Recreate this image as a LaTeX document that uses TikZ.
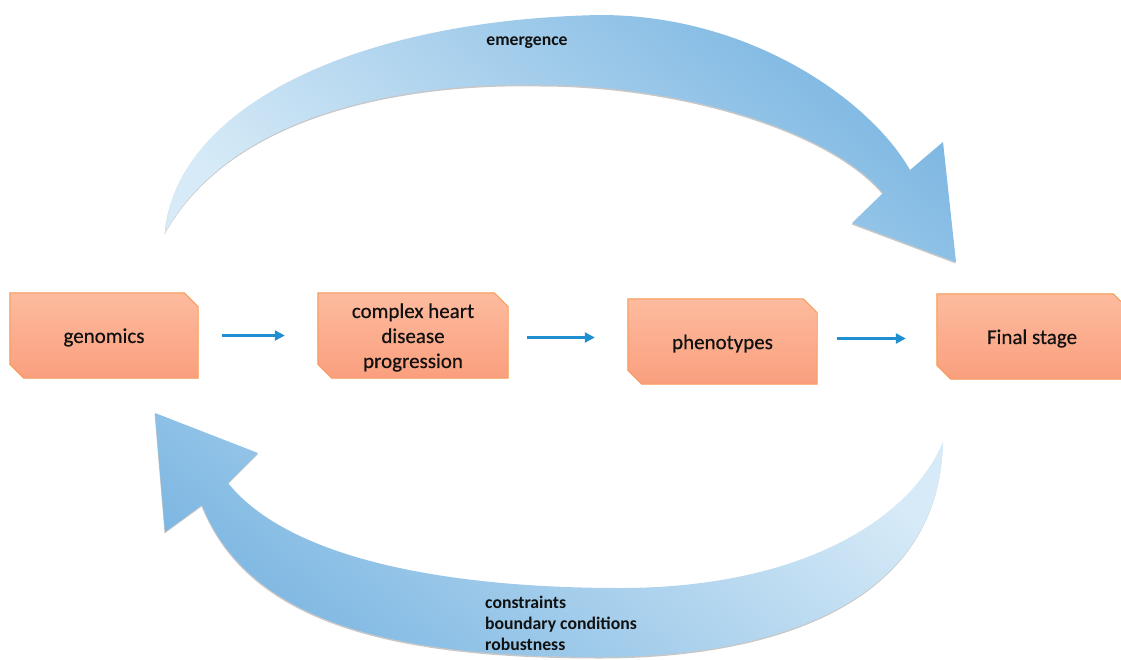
\documentclass[tikz,border=0pt]{standalone}
\usepackage{fontspec}
\setmainfont{Carlito}
\newfontfamily\boxfont{Carlito}[FakeBold=0.5]
\usetikzlibrary{arrows.meta,backgrounds}
\definecolor{boxtop}{HTML}{FDBB9E}
\definecolor{boxbot}{HTML}{FA9F7E}
\definecolor{boxline}{HTML}{F7964F}
\definecolor{flowblue}{HTML}{1F8FCF}
\definecolor{arrdark}{HTML}{7DB7E2}
\definecolor{arrlight}{HTML}{D6EAF7}
\definecolor{txt}{HTML}{111111}
% box outline; the text sits 2pt below the box centre
\newcommand\drawchamf[1]{%
  \draw[boxshape] ([yshift=2pt]#1.north west) -- ([xshift=-14pt,yshift=2pt]#1.north east) -- ([yshift=-12pt]#1.north east)
    -- ([yshift=2pt]#1.south east) -- ([xshift=14pt,yshift=2pt]#1.south west) -- ([yshift=16pt]#1.south west) -- cycle;}
\begin{document}
\begin{tikzpicture}[x=1pt,y=-1pt,
  box/.style={minimum width=#1, minimum height=85pt, inner sep=0pt, align=center,
    font=\boxfont\fontsize{21}{25}\selectfont, text=txt},
  box/.default=188pt,
  boxshape/.style={draw=boxline, line width=0.9pt, top color=boxtop, bottom color=boxbot},
  flow/.style={draw=flowblue, line width=2.4pt, -{Triangle[length=10pt,width=10pt]}},
  lbl/.style={font=\bfseries\fontsize{17.7}{21}\selectfont, text=txt, inner sep=0pt},
  bigarrow/.style={preaction={fill=black, opacity=0.22, transform canvas={xshift=-0.4pt, yshift=-1.5pt}}}
]
\useasboundingbox (0,0) rectangle (1121,660);
\clip (0,0) rectangle (1121,660);

% top arrow
\path[bigarrow, top color=arrdark, bottom color=arrlight, shading angle=-40]
  (165,233) .. controls (175,110) and (350,20) .. (600,15)
  .. controls (750,15) and (870,100) .. (910,170)
  -- (943,142) -- (956,262) -- (852,223) -- (883,193)
  .. controls (830,130) and (680,85) .. (540,85)
  .. controls (400,82) and (230,115) .. (165,233) -- cycle;

% bottom arrow
\path[bigarrow, top color=arrlight, bottom color=arrdark, shading angle=-40]
  (943,442) .. controls (940,600) and (780,657) .. (600,657)
  .. controls (400,657) and (250,625) .. (202,505)
  -- (165,532) -- (155,413) -- (258,453) -- (228,483)
  .. controls (290,560) and (450,588) .. (620,588)
  .. controls (800,588) and (910,520) .. (943,442) -- cycle;

% boxes
\node[box=188pt] (g) at (104,337.5) {genomics};
\node[box=190pt] (c) at (413,337.5) {complex heart\\disease\\progression};
\node[box=189pt] (p) at (722.5,343.5) {phenotypes};
\node[box=190pt] (f) at (1032,338.5) {Final stage};
\begin{pgfonlayer}{background}
  \drawchamf{g}
  \drawchamf{c}
  \drawchamf{p}
  \drawchamf{f}
\end{pgfonlayer}

% flow arrows
\draw[flow] ([xshift=24pt,yshift=2pt]g.east) -- ([xshift=-33pt,yshift=2pt]c.west);
\draw[flow] ([xshift=19pt]c.east) -- ([xshift=-33pt]c.east -| p.west);
\draw[flow] ([xshift=20pt]p.east |- f.west) -- ([xshift=-31pt]f.west);

% labels
\node[lbl] (em) at (527,43) {emergence};
\node[lbl, align=left, anchor=west] (cons) at (485,623) {constraints\\boundary conditions\\robustness};
\end{tikzpicture}
\end{document}
